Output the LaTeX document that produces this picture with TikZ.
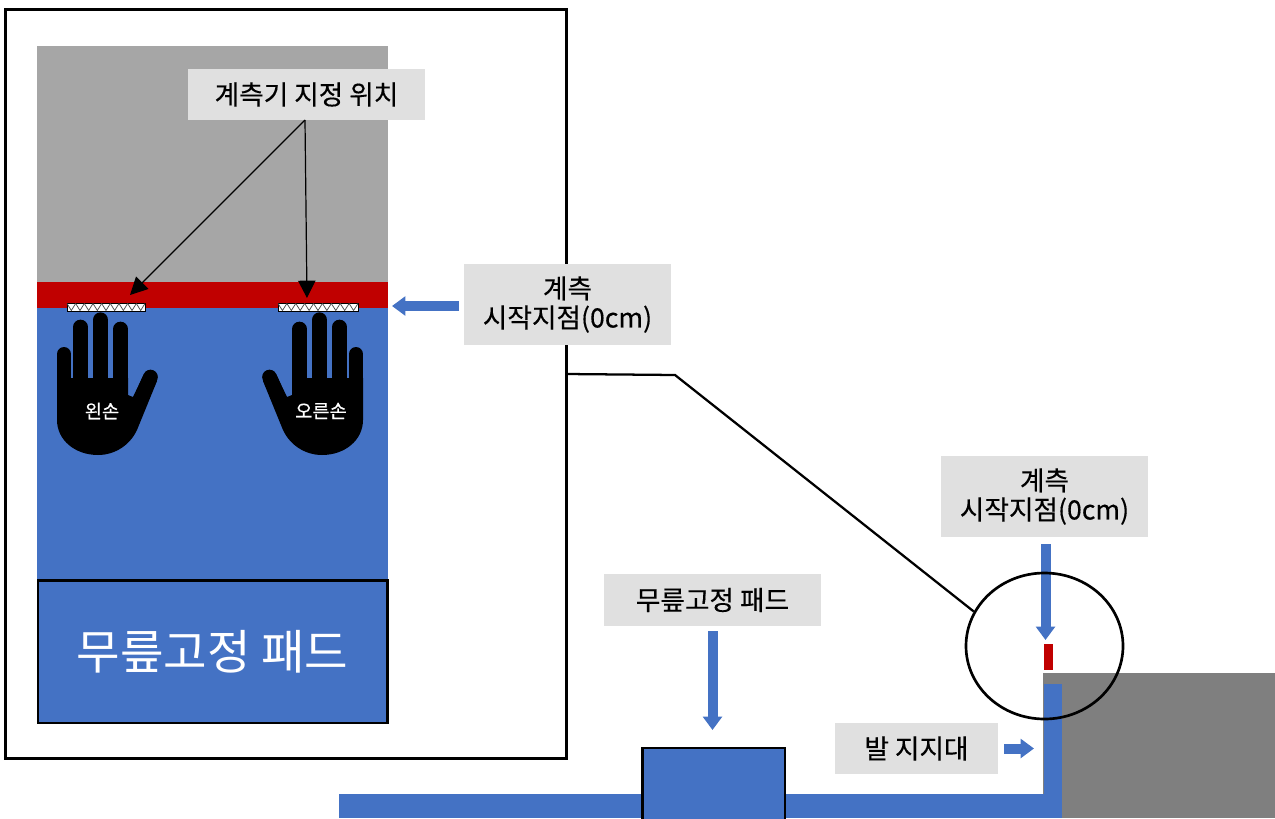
\documentclass[tikz,border=0pt]{standalone}
\usepackage{fontspec}
\setmainfont{Noto Sans CJK KR}
\newfontfamily\lblfont{Noto Sans CJK KR}[FakeBold=0.35]
\usetikzlibrary{arrows.meta,shapes.geometric}
\definecolor{pblue}{HTML}{4472C4}
\definecolor{pred}{HTML}{C00000}
\definecolor{lgray}{HTML}{E0E0E0}
\definecolor{mgray}{HTML}{A6A6A6}
\definecolor{dgray}{HTML}{7F7F7F}
\tikzset{
  lbl/.style={fill=lgray,inner sep=0pt,align=center,text=black,font=\lblfont\fontsize{20pt}{21.8pt}\selectfont,anchor=center},
  fat/.style={draw=pblue,line width=7.5pt,-{Triangle[length=10pt,width=14pt]},shorten >=0pt},
  thin/.style={draw=black,line width=0.9pt,-{Triangle[length=13pt,width=13pt]}},
  outl/.style={draw=black,line width=2pt},
  finger/.style={draw=black,line cap=round},
  handlbl/.style={text=white,inner sep=0pt,font=\lblfont\fontsize{14pt}{16pt}\selectfont},
}
\newcommand{\handshape}{%
  \draw[finger,line width=10.5pt] (64,354) -- (64,400);
  \draw[finger,line width=11pt] (80.5,327) -- (80.5,400);
  \draw[finger,line width=11.5pt] (100.5,320) -- (100.5,400);
  \draw[finger,line width=11pt] (120.5,329) -- (120.5,400);
  \draw[finger,line width=11pt] (150.5,377) -- (138,405);
  \fill[black] (57,378) -- (128,378) -- (128,395) -- (133,397) -- (144,374) -- (157,381) -- (137,430)
    .. controls (130,445) and (115,455) .. (98,455)
    .. controls (75,455) and (57,440) .. (57,420) -- cycle;
}
\newcommand{\sensor}[2]{%
  \draw[black,fill=white,line width=0.7pt] (#1,303) rectangle (#2,311);
  \pgfmathsetmacro{\stepw}{(#2-#1)/9}
  \foreach \i in {0,...,8}{
    \draw[black!70,line width=0.55pt] ({#1+\i*\stepw},303.5) -- ({#1+(\i+.5)*\stepw},310.5) -- ({#1+(\i+1)*\stepw},303.5);
  }
}
\begin{document}
\begin{tikzpicture}[x=0.75pt,y=-0.75pt]
\useasboundingbox (0,0) rectangle (1275,818);
\fill[white] (0,0) rectangle (1275,818);
% left panel
\fill[black] (3.5,7.5) rectangle (567.5,759.5);
\fill[white] (6.5,10.5) rectangle (564.5,756.5);
\fill[mgray] (37,46) rectangle (388,282);
\fill[pred] (37,282) rectangle (388,308);
\fill[pblue] (37,308) rectangle (388,580);
\node[outl,fill=pblue,minimum width=262pt,minimum height=107pt,inner sep=0pt,text=white,font=\fontsize{35.5pt}{40pt}\selectfont] (pad) at (212.5,651.5) {무릎고정 패드};
\sensor{67}{145}
\sensor{278}{358}
\handshape
\begin{scope}[shift={(420,0)},xscale=-1]
\handshape
\end{scope}
\node[handlbl] (lh) at (102,411) {왼손};
\node[handlbl] (rh) at (321,411) {오른손};
% labels
\node[lbl,minimum width=177.75pt,minimum height=38.25pt] (l1) at (306.5,94.5) {계측기 지정 위치};
\node[lbl,minimum width=155.25pt,minimum height=60.75pt] (l2) at (567.5,304.5) {\raisebox{-1pt}{계측}\\\raisebox{-1pt}{시작지점(0cm)}};
\node[lbl,minimum width=155.25pt,minimum height=60.75pt] (l3) at (1044.5,496.5) {\raisebox{-1pt}{계측}\\\raisebox{-1pt}{시작지점(0cm)}};
\node[lbl,minimum width=162.75pt,minimum height=39pt] (l4) at (712.5,600) {무릎고정 패드};
\node[lbl,minimum width=122.25pt,minimum height=38.25pt] (l5) at (916.5,748.5) {발 지지대};
% ground and support
\fill[dgray] (1043,673) rectangle (1275,818);
\fill[pblue] (339,794) rectangle (1062,818);
\fill[pblue] (1044,684) rectangle (1062,818);
\node[outl,fill=pblue,minimum width=107pt,minimum height=60pt,inner sep=0pt,anchor=north west] (kp) at (641,746.5) {};
\fill[pred] (1043.5,643.5) rectangle (1052.5,670);
% targets
\coordinate (a1) at (130,295);
\coordinate (a2) at (307,298);
\coordinate (b2) at (392,306);
\coordinate (b3) at (1045.5,640);
\coordinate (b4) at (712.5,730);
\coordinate (b5) at (1034,748.5);
\coordinate (s1) at (305,120);
\coordinate (c1) at (566,374);
\coordinate (c2) at (675,375);
\coordinate (f2) at (459,306);
\coordinate (f3) at (1045.5,544);
\coordinate (f4) at (712.5,631);
\coordinate (f5) at (1004,748.5);
% connectors
\draw[thin] (s1) -- (a1);
\draw[thin] (s1) -- (a2);
\draw[fat] (f2) -- (b2);
\draw[fat] (f3) -- (b3);
\draw[fat] (f4) -- (b4);
\draw[fat] (f5) -- (b5);
% zoom circle
\node[ellipse,draw=black,line width=2pt,minimum width=117.75pt,minimum height=109.5pt,inner sep=0pt] (circ) at (1044.5,646) {};
\draw[black,line width=1.7pt] (c1) -- (c2) -- (circ.154);
\end{tikzpicture}
\end{document}
